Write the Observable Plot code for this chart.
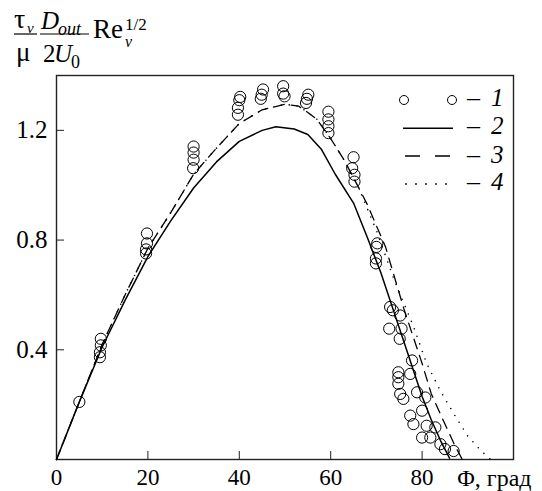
<!DOCTYPE html>
<html><head><meta charset="utf-8">
<script src="https://cdn.jsdelivr.net/npm/d3@7"></script>
<script src="https://cdn.jsdelivr.net/npm/@observablehq/plot@0.6"></script>
<style>
body{margin:0;background:#fff;}
#wrap{position:relative;width:542px;height:491px;}
#wrap > svg{display:block;}
#wrap svg, #wrap svg text{font-family:"Liberation Serif","Times New Roman",serif !important;}
.ov{position:absolute;left:0;top:0;pointer-events:none;}
</style></head><body><div id="wrap"></div>
<script>
// Experimental points (1)
const pointPhi = [5,
  9.7,9.7,9.5,9.5,
  19.8,19.8,19.6,19.6,
  30,30,30,29.9,
  40.2,40,39.7,39.7,
  45.2,44.9,44.7,
  49.6,49.6,49.9,
  55.1,54.8,54.6,
  59.5,59.5,59.5,59.5,
  65,64.7,65.2,65.2,
  70.2,70,69.9,69.9,
  73,73.6,75.2,72.8,75.5,75.1,
  77.8,74.8,74.8,74.8,77.4,
  75.2,75.9,78.9,80.7,
  77.4,80,78.1,81,82.9,
  80,81.8,84,85,86.9];
const pointTau = [0.21,
  0.44,0.416,0.391,0.373,
  0.824,0.788,0.766,0.751,
  1.141,1.119,1.093,1.062,
  1.322,1.31,1.282,1.257,
  1.349,1.33,1.315,
  1.361,1.334,1.324,
  1.33,1.315,1.30,
  1.268,1.24,1.215,1.19,
  1.102,1.062,1.038,1.013,
  0.788,0.775,0.733,0.715,
  0.556,0.544,0.525,0.477,0.477,0.44,
  0.361,0.318,0.30,0.276,0.312,
  0.239,0.221,0.245,0.226,
  0.16,0.178,0.129,0.123,0.117,
  0.08,0.08,0.056,0.038,0.031];

// Curve 2 (solid)
const phi2 = [0,5,10,15,20,25,30,35,40,45,48,52,55,58,61,65,68,71,74,76,78,80,82,84,86];
const tau2 = [0,0.21,0.41,0.58,0.74,0.87,0.99,1.085,1.16,1.20,1.213,1.205,1.185,1.13,1.04,0.935,0.81,0.68,0.53,0.43,0.33,0.23,0.145,0.07,0.005];
// Curve 3 (dashed)
const phi3 = [0,5,10,15,20,25,30,35,40,45,50,53,55,57,60,63,66,68,72,76,78,80,82,84.7,87.2,88.8];
const tau3 = [0,0.21,0.42,0.6,0.77,0.9,1.04,1.135,1.225,1.275,1.295,1.288,1.265,1.24,1.17,1.09,0.995,0.93,0.775,0.55,0.45,0.35,0.24,0.14,0.05,0];
// Curve 4 (dotted)
const phi4 = [0,5,10,15,20,25,30,35,40,45,50,53,55,57,60,63,66,70,74,78,81,84,87,90,93,95];
const tau4 = [0,0.21,0.42,0.6,0.77,0.9,1.04,1.135,1.225,1.275,1.295,1.288,1.265,1.24,1.17,1.09,0.995,0.835,0.65,0.49,0.35,0.25,0.165,0.085,0.03,0];

const xTicks = [0,20,40,60,80];
const yTicks = [0.4,0.8,1.2];
const xLabel = "Φ, град";
const legendLabels = ["1","2","3","4"];

const FONT = '"Liberation Serif", "Times New Roman", serif';
const points = pointPhi.map((x,i)=>({x, y: pointTau[i]}));
const c2 = phi2.map((x,i)=>({x, y: tau2[i]}));
const c3 = phi3.map((x,i)=>({x, y: tau3[i]}));
const c4 = phi4.map((x,i)=>({x, y: tau4[i]}));

const chart = Plot.plot({
  width: 542, height: 491,
  marginLeft: 56, marginRight: 29, marginTop: 75, marginBottom: 32,
  style: {fontFamily: FONT, fontSize: "24px", background: "white", color: "black"},
  x: {domain: [0,100]},
  y: {domain: [0,1.4]},
  marks: [
    Plot.frame({stroke: "#222", strokeWidth: 1.4}),
    Plot.axisX(xTicks, {tickSize: -8, tickPadding: 17, label: null, tickFormat: d => String(d), fontSize: 23, stroke: "#222"}),
    Plot.axisY(yTicks, {tickSize: -8, tickPadding: 17, label: null, tickFormat: d => d.toFixed(1), fontSize: 25, stroke: "#222"}),
    Plot.line(c4, {x: "x", y: "y", stroke: "black", strokeWidth: 1.6, strokeDasharray: "0,8", strokeLinecap: "round"}),
    Plot.line(c3, {x: "x", y: "y", stroke: "black", strokeWidth: 1.3, strokeDasharray: "10,7"}),
    Plot.line(c2, {x: "x", y: "y", stroke: "black", strokeWidth: 1.5}),
    Plot.dot(points, {x: "x", y: "y", r: 5.6, stroke: "black", fill: "none", strokeWidth: 1}),
    Plot.text([xLabel], {frameAnchor: "bottom-right", dx: 18, dy: 9, textAnchor: "end", lineAnchor: "top", fontSize: 24})
  ]
});
const wrap = document.getElementById("wrap");
wrap.appendChild(chart);

const NS = "http://www.w3.org/2000/svg";
const ov = document.createElementNS(NS, "svg");
ov.setAttribute("class", "ov");
ov.setAttribute("width", 542);
ov.setAttribute("height", 491);
function el(tag, attrs, txt){
  const e = document.createElementNS(NS, tag);
  for (const k in attrs) e.setAttribute(k, attrs[k]);
  if (tag === "text") e.setAttribute("font-family", FONT);
  if (txt != null) e.textContent = txt;
  ov.appendChild(e);
  return e;
}
// Y-axis label: τv/μ · Dout/2U0 · Re_v^(1/2)
el("text", {x: 14, y: 28, "font-size": 28}, "τ");
el("text", {x: 27, y: 33, "font-size": 15, "font-style": "italic"}, "v");
el("line", {x1: 14, x2: 37, y1: 34, y2: 34, stroke: "black", "stroke-width": 1.2});
el("text", {x: 16, y: 61, "font-size": 27}, "μ");
el("text", {x: 41, y: 29, "font-size": 25, "font-style": "italic"}, "D");
el("text", {x: 58, y: 35, "font-size": 18, "font-style": "italic"}, "out");
el("line", {x1: 40, x2: 89, y1: 34, y2: 34, stroke: "black", "stroke-width": 1.2});
el("text", {x: 43, y: 62, "font-size": 25}, "2");
el("text", {x: 54, y: 62, "font-size": 25, "font-style": "italic"}, "U");
el("text", {x: 71, y: 68, "font-size": 18}, "0");
el("text", {x: 93, y: 38, "font-size": 27}, "Re");
el("text", {x: 125, y: 47, "font-size": 16, "font-style": "italic"}, "v");
el("text", {x: 125, y: 30, "font-size": 17}, "1/2");

// Legend
const rows = [106, 134, 163, 190];
el("circle", {cx: 404, cy: 100, r: 4.5, fill: "none", stroke: "black", "stroke-width": 1});
el("circle", {cx: 452, cy: 100, r: 4.5, fill: "none", stroke: "black", "stroke-width": 1});
el("line", {x1: 403, x2: 453, y1: 128.3, y2: 128.3, stroke: "black", "stroke-width": 1.5});
el("line", {x1: 405, x2: 450, y1: 156, y2: 156, stroke: "black", "stroke-width": 1.4, "stroke-dasharray": "15,15"});
el("line", {x1: 406, x2: 448, y1: 184, y2: 184, stroke: "black", "stroke-width": 1.8, "stroke-dasharray": "0,10", "stroke-linecap": "round"});
legendLabels.forEach((lab, i) => {
  el("text", {x: 467, y: rows[i], "font-size": 26}, "–");
  el("text", {x: 491, y: rows[i], "font-size": 25, "font-style": "italic"}, lab);
});
wrap.appendChild(ov);
</script></body></html>
